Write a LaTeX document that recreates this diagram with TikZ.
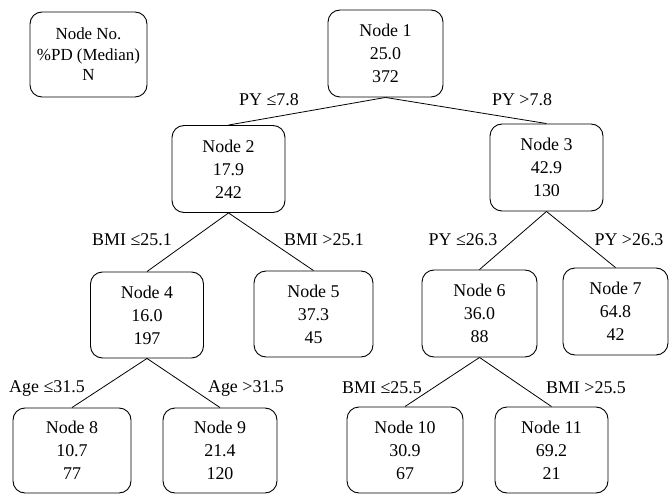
\documentclass[tikz,border=0pt]{standalone}
\usepackage{fontspec}
\setmainfont{Liberation Serif}
\begin{document}
\begin{tikzpicture}[x=1bp,y=-1bp,
  box/.style={draw, line width=0.9bp, rounded corners=12bp, align=center,
    inner sep=0pt, font=\fontsize{18}{23}\selectfont, minimum height=87bp},
  lbl/.style={font=\fontsize{18}{22}\selectfont, inner sep=0pt},
  edge/.style={line width=0.8bp}]
\useasboundingbox (0,0) rectangle (672,494);
\node[box, minimum width=117bp, minimum height=85bp, font=\fontsize{17}{20.5}\selectfont] (leg) at (88.5,54.5) {Node No.\\\%PD (Median)\\N};
\node[box, minimum width=115bp] (n1) at (385.5,53.5) {Node 1\\25.0\\372};
\node[box, minimum width=113bp] (n2) at (228.5,169) {Node 2\\17.9\\242};
\node[box, minimum width=113bp] (n3) at (546.5,167.5) {Node 3\\42.9\\130};
\node[box, minimum width=113bp, minimum height=86bp] (n4) at (147,315) {Node 4\\16.0\\197};
\node[box, minimum width=119bp, minimum height=86bp] (n5) at (313.5,314) {Node 5\\37.3\\45};
\node[box, minimum width=115bp] (n6) at (479.5,313.5) {Node 6\\36.0\\88};
\node[box, minimum width=105bp] (n7) at (615.5,311.5) {Node 7\\64.8\\42};
\node[box, minimum width=118bp, minimum height=85bp] (n8) at (72,450.5) {Node 8\\10.7\\77};
\node[box, minimum width=114bp, minimum height=85bp] (n9) at (220,450.5) {Node 9\\21.4\\120};
\node[box, minimum width=116bp, minimum height=86bp] (n10) at (405,450) {Node 10\\30.9\\67};
\node[box, minimum width=113bp, minimum height=86bp] (n11) at (551.5,450) {Node 11\\69.2\\21};
\draw[edge] (n1.south) -- (n2.north);
\draw[edge] (n1.south) -- (n3.north);
\draw[edge] (n2.south) -- (n4.north);
\draw[edge] (n2.south) -- (n5.north);
\draw[edge] (n3.south) -- (n6.north);
\draw[edge] (n3.south) -- (n7.north);
\draw[edge] (n4.south) -- (n8.north);
\draw[edge] (n4.south) -- (n9.north);
\draw[edge] (n6.south) -- (n10.north);
\draw[edge] (n6.south) -- (n11.north);
\node[lbl] (l12) at (269,100) {PY ≤7.8};
\node[lbl] (l13) at (522,100) {PY >7.8};
\node[lbl] (l24) at (132,240) {BMI ≤25.1};
\node[lbl] (l25) at (324,240) {BMI >25.1};
\node[lbl] (l36) at (463,240) {PY ≤26.3};
\node[lbl] (l37) at (629,240) {PY >26.3};
\node[lbl] (l48) at (47,388) {Age ≤31.5};
\node[lbl] (l49) at (246,388) {Age >31.5};
\node[lbl] (l610) at (382,388) {BMI ≤25.5};
\node[lbl] (l611) at (586,388) {BMI >25.5};
\end{tikzpicture}
\end{document}
